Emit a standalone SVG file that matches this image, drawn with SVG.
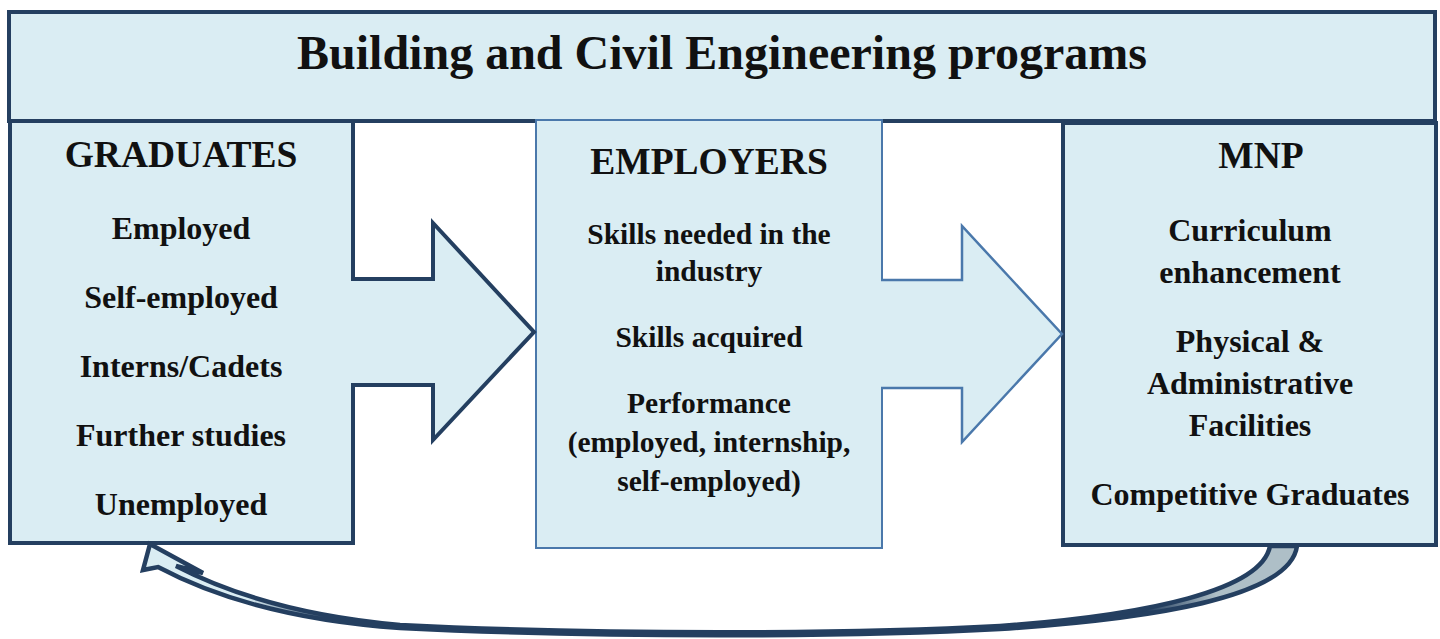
<svg xmlns="http://www.w3.org/2000/svg" width="1440" height="639" viewBox="0 0 1440 639">
  <defs>
    <style>
      .box-dark { fill: #daedf3; stroke: #243f60; stroke-width: 4; }
      .box-light { fill: #daedf3; stroke: #4a78ab; stroke-width: 2; }
      .fill { fill: #daedf3; stroke: none; }
      .edge-dark { fill: none; stroke: #243f60; stroke-width: 4; stroke-linejoin: miter; }
      .edge-light { fill: none; stroke: #4a78ab; stroke-width: 2.5; stroke-linejoin: miter; }
      text { font-family: "Liberation Serif", "Times New Roman", serif; font-weight: bold; fill: #111; text-anchor: middle; }
      .title { font-size: 48px; }
      .head { font-size: 37.5px; }
      .item { font-size: 32px; }
      .item2 { font-size: 29.5px; }
      .item3 { font-size: 32px; }
    </style>
    <!-- light near the head, solid in the thin middle, grey on the wide tail -->
    <linearGradient id="returnFill" gradientUnits="userSpaceOnUse" x1="143" y1="0" x2="1297" y2="0">
      <stop offset="0" stop-color="#daedf3"/>
      <stop offset="0.09" stop-color="#daedf3"/>
      <stop offset="0.17" stop-color="#243f60"/>
      <stop offset="0.87" stop-color="#243f60"/>
      <stop offset="0.93" stop-color="#aebfc7"/>
      <stop offset="1" stop-color="#aebfc7"/>
    </linearGradient>
  </defs>

  <rect width="1440" height="639" fill="#ffffff"/>

  <!-- Header banner -->
  <g id="header">
    <rect class="box-dark" x="9" y="12" width="1426" height="109"/>
    <text class="title" x="722" y="69">Building and Civil Engineering programs</text>
  </g>

  <!-- Graduates -->
  <g id="graduates">
    <rect class="box-dark" x="10" y="121" width="343" height="422"/>
    <text class="head" x="181" y="167">GRADUATES</text>
    <text class="item" x="181" y="239">Employed</text>
    <text class="item" x="181" y="308">Self-employed</text>
    <text class="item" x="181" y="377">Interns/Cadets</text>
    <text class="item" x="181" y="446">Further studies</text>
    <text class="item" x="181" y="515">Unemployed</text>
  </g>

  <!-- Employers -->
  <g id="employers">
    <rect class="box-light" x="536" y="120" width="346" height="428"/>
    <text class="head" x="709" y="174">EMPLOYERS</text>
    <text class="item2" x="709" y="244">Skills needed in the</text>
    <text class="item2" x="709" y="281">industry</text>
    <text class="item2" x="709" y="347">Skills acquired</text>
    <text class="item2" x="709" y="413">Performance</text>
    <text class="item2" x="709" y="452">(employed, internship,</text>
    <text class="item2" x="709" y="491">self-employed)</text>
  </g>

  <!-- MNP -->
  <g id="mnp">
    <rect class="box-dark" x="1063" y="123" width="373" height="422"/>
    <text class="head" x="1261" y="168">MNP</text>
    <text class="item3" x="1250" y="241">Curriculum</text>
    <text class="item3" x="1250" y="283">enhancement</text>
    <text class="item3" x="1250" y="352">Physical &amp;</text>
    <text class="item3" x="1250" y="394">Administrative</text>
    <text class="item3" x="1250" y="436">Facilities</text>
    <text class="item3" x="1250" y="505">Competitive Graduates</text>
  </g>

  <!-- Connectors -->
  <g id="connectors">
    <!-- Graduates to Employers -->
    <path class="fill" d="M351,279 L433,279 L433,223 L534,332 L433,440 L433,385 L351,385 Z"/>
    <path class="edge-dark" d="M351,279 L433,279 L433,223 L534,332 L433,440 L433,385 L351,385"/>

    <!-- Employers to MNP -->
    <path class="fill" d="M881,280 L962,280 L962,226 L1062,334 L962,442 L962,388 L881,388 Z"/>
    <path class="edge-light" d="M881,280 L962,280 L962,226 L1062,334 L962,442 L962,388 L881,388"/>

    <!-- Feedback loop from MNP back to Graduates -->
    <path d="M1297,546 C1290,598 1150,619 1000,629 C850,637 600,638 400,628 C300,621 220,600 158,567 L143,570 L150,544 L203,573 L176,566 C230,594 300,616 400,625 C600,635 850,634 1000,626 C1150,615 1262,590 1270,546 Z"
          fill="url(#returnFill)" stroke="#243f60" stroke-width="4.5" stroke-linejoin="miter"/>
  </g>
</svg>
